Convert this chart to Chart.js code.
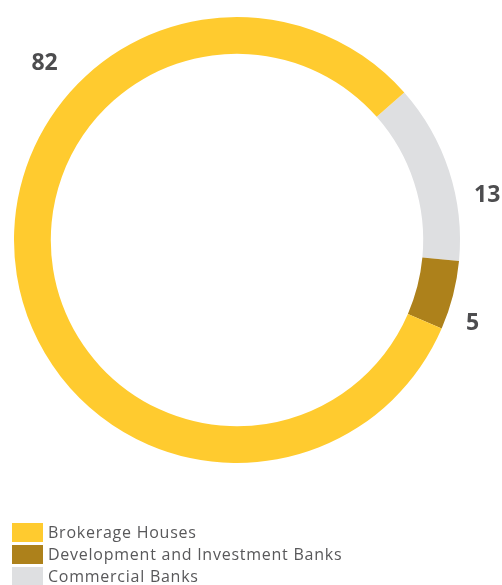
<!DOCTYPE html>
<html>
<head>
<meta charset="utf-8">
<script src="https://cdn.jsdelivr.net/npm/chart.js@4.4.0/dist/chart.umd.min.js"></script>
<style>
  body { margin: 0; background: #fff; }
  #wrap { position: relative; width: 502px; height: 585px; }
  #legend { position: absolute; left: 12px; top: 521px; margin: 0; padding: 0; list-style: none;
            font-family: "Open Sans", sans-serif; font-size: 16px; letter-spacing: 0.75px; color: #58585a; }
  #legend li { display: flex; align-items: center; height: 22px; }
  #legend span.box { display: inline-block; width: 31px; height: 19px; margin-right: 5px; }
</style>
</head>
<body>
<div id="wrap">
  <canvas id="grafico" width="502" height="585"></canvas>
  <ul id="legend"></ul>
</div>
<script>
// legend order
var categorias = ['Brokerage Houses', 'Development and Investment Banks', 'Commercial Banks'];
var valores = [82, 5, 13];
var cores = ['#ffcb2f', '#ad811b', '#dedfe1'];

// the ring runs grey -> brown -> yellow clockwise, so feed it back to front
var ordem = [2, 1, 0];

// where each value sits around the ring (degrees clockwise from top, px from centre)
var rotulos = { angulo: [312.5, 109.6, 80], distancia: [261, 250, 254] };

var rotuloPlugin = {
    id: 'rotulos',
    afterDatasetsDraw: function(chart) {
        var ctx = chart.ctx;
        var arco = chart.getDatasetMeta(0).data[0];
        ctx.save();
        ctx.font = 'bold 23px "Open Sans", sans-serif';
        ctx.fillStyle = '#4d4d4f';
        ctx.textAlign = 'center';
        ctx.textBaseline = 'middle';
        ordem.forEach(function(i) {
            var a = rotulos.angulo[i] * Math.PI / 180;
            var r = rotulos.distancia[i];
            ctx.fillText(String(valores[i]), arco.x + Math.sin(a) * r, arco.y - Math.cos(a) * r);
        });
        ctx.restore();
    }
};

var ctx = document.getElementById('grafico').getContext('2d');
window.myDonut = new Chart(ctx, {
    type: 'doughnut',
    data: {
        labels: ordem.map(function(i) { return categorias[i]; }),
        datasets: [{
            data: ordem.map(function(i) { return valores[i]; }),
            backgroundColor: ordem.map(function(i) { return cores[i]; }),
            borderWidth: 0
        }]
    },
    options: {
        responsive: false,
        animation: false,
        rotation: 48.6,
        cutout: '83.5%',
        layout: { padding: { left: 14, right: 42, top: 17, bottom: 122 } },
        plugins: {
            legend: { display: false },
            tooltip: { enabled: false }
        }
    },
    plugins: [rotuloPlugin]
});

// html legend, in the original category order
var lista = document.getElementById('legend');
categorias.forEach(function(nome, i) {
    var li = document.createElement('li');
    var box = document.createElement('span');
    box.className = 'box';
    box.style.background = cores[i];
    li.appendChild(box);
    li.appendChild(document.createTextNode(nome));
    lista.appendChild(li);
});
</script>
</body>
</html>
